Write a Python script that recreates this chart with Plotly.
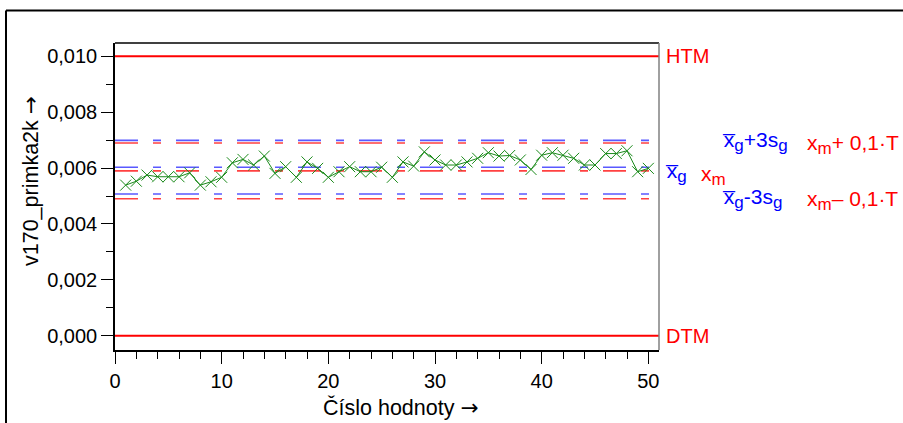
import plotly.graph_objects as go

# ---- data ----
sample_no = list(range(1, 51))
values = [0.00539, 0.00553, 0.00575, 0.00569, 0.00569, 0.00569, 0.00583, 0.00539, 0.00551, 0.00567,
          0.00619, 0.00631, 0.00611, 0.00643, 0.00581, 0.00605, 0.00567, 0.00622, 0.00599, 0.00567,
          0.00587, 0.00605, 0.00587, 0.00587, 0.00603, 0.00567, 0.00622, 0.00607, 0.00658, 0.00629,
          0.00611, 0.00611, 0.00622, 0.00635, 0.00655, 0.00643, 0.00645, 0.00629, 0.00595, 0.00646,
          0.00655, 0.00646, 0.00635, 0.00611, 0.00611, 0.00652, 0.00652, 0.00662, 0.00587, 0.00599]
HTM = 0.010
DTM = 0.000
T = HTM - DTM
x_m = 0.0059
xg_mean = 0.00603
s3 = 0.00096
x_range = [0, 51]
y_range = [-0.00051, 0.010476]
y_ticks = [0.000, 0.002, 0.004, 0.006, 0.008, 0.010]
x_ticks = [0, 10, 20, 30, 40, 50]

FONT = "Arial, Liberation Sans, sans-serif"
L, R, TOP, B = 115, 244, 43, 73
W, H = 903, 423
PW, PH = W - L - R, H - TOP - B

def px(xp):
    return (xp - L) / PW

def py(yp):
    return (H - B - yp) / PH

DASH = "23px,15px,8px,15px"

fig = go.Figure()

def hline(y, color, width, dash="solid", opacity=1.0):
    fig.add_trace(go.Scatter(x=x_range, y=[y, y], mode="lines", opacity=opacity,
                             line=dict(color=color, width=width, dash=dash),
                             hoverinfo="skip", showlegend=False))

hline(HTM, "#ff0000", 2)
hline(DTM, "#ff0000", 2)
# blue: mean +/- 3s
hline(xg_mean + s3, "#3030ff", 1.6, DASH, 0.8)
hline(xg_mean, "#3030ff", 1.6, DASH, 0.8)
hline(xg_mean - s3, "#3030ff", 1.6, DASH, 0.8)
# red: x_m +/- 0.1T
hline(x_m + 0.1 * T, "#ff2020", 1.6, DASH, 0.85)
hline(x_m, "#ff2020", 1.6, DASH, 0.85)
hline(x_m - 0.1 * T, "#ff2020", 1.6, DASH, 0.85)

fig.add_trace(go.Scatter(x=sample_no, y=values, mode="lines+markers",
                         line=dict(color="#1a8a1a", width=1),
                         marker=dict(symbol="x-thin", size=11,
                                     line=dict(color="#1a8a1a", width=1)),
                         showlegend=False))

fig.update_xaxes(range=x_range, tickvals=x_ticks, ticks="outside", ticklen=12, tickwidth=1,
                 tickcolor="black", showline=True, linecolor="black", linewidth=1.5,
                 mirror=False, showgrid=False, zeroline=False,
                 tickfont=dict(family=FONT, size=20, color="black"),
                 minor=dict(dtick=2, tick0=0, ticks="outside", ticklen=7, tickcolor="black", showgrid=False))
fig.update_yaxes(range=y_range, tickvals=y_ticks, tickformat=".3f", ticks="outside", ticklen=12,
                 tickwidth=1, tickcolor="black", showline=True, linecolor="black", linewidth=1.5,
                 showgrid=False, zeroline=False,
                 tickfont=dict(family=FONT, size=20, color="black"),
                 minor=dict(dtick=0.001, tick0=0, ticks="outside", ticklen=7, tickcolor="black", showgrid=False))

shapes = [
    # top and right plot border
    dict(type="line", xref="paper", yref="paper", x0=0, x1=1, y0=1, y1=1,
         line=dict(color="black", width=1.5)),
    dict(type="line", xref="paper", yref="paper", x0=1, x1=1, y0=0, y1=1,
         line=dict(color="#808080", width=1.5)),
    # outer frame
    dict(type="line", xref="paper", yref="paper", x0=px(6), x1=px(6), y0=py(10.5), y1=py(430),
         line=dict(color="black", width=2)),
    dict(type="line", xref="paper", yref="paper", x0=px(6), x1=px(910), y0=py(10.5), y1=py(10.5),
         line=dict(color="black", width=2)),
]

RED = "#ff0000"
BLUE = "#0000ff"
XB = "x\u0305"
ARROW = "<span style='font-family:DejaVu Sans'>\u2192</span>"

def sub(s):
    return "<sub><span style='font-size:17px'>" + s + "</span></sub>"

ann = []

def text(x, y, s, color, size=20, xanchor="left", yanchor="middle", yref="paper", angle=0):
    ann.append(dict(x=x, y=y, xref="paper", yref=yref, text=s, showarrow=False,
                    xanchor=xanchor, yanchor=yanchor, textangle=angle,
                    font=dict(family=FONT, size=size, color=color)))

text(px(664), HTM, "HTM", RED, yref="y")
text(px(664), DTM, "DTM", RED, yref="y")
text(px(663), py(172), XB + sub("g"), BLUE, size=21)
text(px(699), py(175), "x" + sub("m"), RED, size=21)
text(px(720), py(141), XB + sub("g") + "+3s" + sub("g"), BLUE, size=21)
text(px(805), py(144), "x" + sub("m") + "+ 0,1\u00b7T", RED, size=21)
text(px(720), py(198), XB + sub("g") + "-3s" + sub("g"), BLUE, size=21)
text(px(805), py(200), "x" + sub("m") + "\u2013 0,1\u00b7T", RED, size=21)
# axis titles
text(px(400), py(407), "Číslo hodnoty " + ARROW, "black", size=21.5, xanchor="center")
text(px(30), py(181), "v170_primka2k " + ARROW, "black", size=21.5, xanchor="center", angle=-90)

fig.update_layout(width=W, height=H, margin=dict(l=L, r=R, t=TOP, b=B),
                  paper_bgcolor="white", plot_bgcolor="white", separators=", ",
                  shapes=shapes, annotations=ann, showlegend=False,
                  font=dict(family=FONT, size=20, color="black"))

fig.write_html("out.html", config={"displayModeBar": False},
               post_script="document.body.style.margin='0';document.body.style.overflow='hidden';")
